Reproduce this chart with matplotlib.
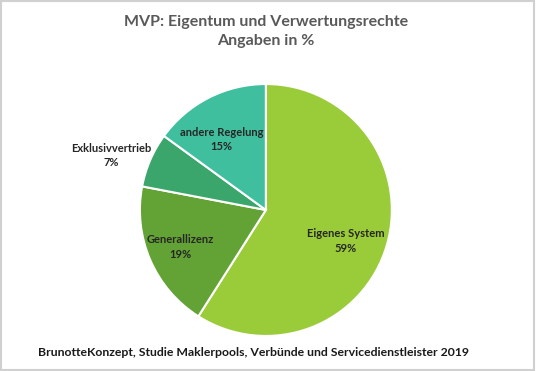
import matplotlib
matplotlib.use("Agg")
import matplotlib.pyplot as plt
import numpy as np

categories = ["Eigenes System", "Generallizenz", "Exklusivvertrieb", "andere Regelung"]
values = [59, 19, 7, 15]
colors = ["#9ACB38", "#63A336", "#3AA66C", "#40BF9F"]
label_dist = [0.68, 0.74, 1.30, 0.66]
label_angle_offset = [-5, 0, 4, 5]

plt.rcParams['font.family'] = ['Lato', 'DejaVu Sans']

fig = plt.figure(figsize=(5.36, 3.71), dpi=100)
fig.patch.set_facecolor("white")
frame = plt.Rectangle((0.002, 0.003), 0.995, 0.993, transform=fig.transFigure,
                      fill=False, edgecolor="#D0D0D0", linewidth=1.5)
fig.patches.append(frame)

ax = fig.add_axes([0.496 - 0.235, 0.434 - 0.3396, 0.470, 0.6792])
wedges, _ = ax.pie(values, colors=colors, startangle=90, counterclock=False,
                   wedgeprops=dict(edgecolor="white", linewidth=1.5))
ax.set_xlim(-1.0, 1.0)
ax.set_ylim(-1.0, 1.0)
ax.set_aspect("equal")

total = sum(values)
start = 90.0
for w, cat, val, dist, off in zip(wedges, categories, values, label_dist, label_angle_offset):
    sweep = 360.0 * val / total
    mid = np.deg2rad(start - sweep / 2 + off)
    start -= sweep
    x, y = dist * np.cos(mid), dist * np.sin(mid)
    ax.text(x, y, f"{cat}\n{val}%", ha="center", va="center", fontsize=8,
            fontweight="bold", color="#262626", linespacing=1.35, clip_on=False)

fig.text(0.496, 0.915, "MVP: Eigentum und Verwertungsrechte\nAngaben in %",
         ha="center", va="center", fontsize=11.5, fontweight="bold",
         color="#595959", linespacing=1.45)
fig.text(0.07, 0.05, "BrunotteKonzept, Studie Maklerpools, Verbünde und Servicedienstleister 2019",
         ha="left", va="center", fontsize=8.8, fontweight="bold", color="#1a1a1a")

fig.savefig("out.png", dpi=100, facecolor="white")
